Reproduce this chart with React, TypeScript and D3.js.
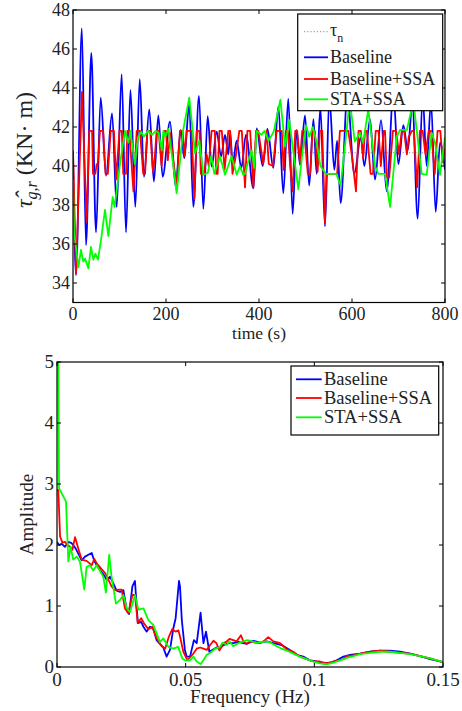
import React from 'react';
import * as d3 from 'd3';

// ---------- data ----------
const timeTicks = [0, 200, 400, 600, 800];
const torqueTicks = [34, 36, 38, 40, 42, 44, 46, 48];
const freqTicks = [0, 0.05, 0.1, 0.15];
const ampTicks = [0, 1, 2, 3, 4, 5];
const tauN = 40.68;

// time (s), torque (KN·m)
const baselineTorque: [number, number][] = [
  [0, 40.7], [6.5, 34.4], [19, 47.06], [28, 35.95], [39.4, 45.8], [49.5, 36.6], [59.5, 43.5],
  [71, 39.5], [84, 42.7], [94, 37.9], [104.6, 44.7], [114, 36.6], [123.5, 43.9], [134, 37.9],
  [143.5, 44.45], [152.7, 39.45], [164, 42.9], [174, 39.2], [183.5, 42.6], [192.8, 39.45],
  [208.6, 42.27], [220.8, 38.95], [231.5, 41.85], [239.4, 40.4], [250, 43.2], [258.7, 37.9],
  [271, 43.6], [280.3, 37.8], [289.6, 42.55], [298.2, 39.97], [309, 41.76], [318.3, 40.5],
  [327, 41.6], [334, 40.6], [338, 41.7], [343.4, 40.1], [352, 41.3], [362, 39.9], [372, 41.6],
  [388, 38.85], [395, 41.93], [408, 40.0], [418, 41.9], [430.8, 39.9], [441.6, 43.05],
  [452.3, 38.6], [463, 43.45], [472.4, 37.55], [481, 41.85], [488.2, 40.05], [499, 42.6],
  [508, 39.0], [517, 42.4], [524, 39.6], [532, 43.0], [541.9, 36.9], [551.2, 43.5], [562, 39.8],
  [568, 41.3], [575.6, 38.1], [590, 43.6], [605, 39.6], [619, 41.5], [626.5, 40.0], [638.7, 42.4],
  [649.5, 39.3], [662.4, 42.35], [674.6, 38.7], [688.9, 43.7], [699.7, 40.1], [710.5, 42.1],
  [719.8, 40.8], [729.8, 43.2], [741.3, 37.3], [752, 43.6], [760.6, 40.0], [769.9, 43.3],
  [780, 37.65], [789.3, 41.2], [800, 39.8],
];

const baselineSsaTorque: [number, number][] = [
  [0, 40.8], [6.5, 34.5], [19.4, 43.8], [29.4, 37.15], [35, 41.8], [41, 41.8], [43, 39.6], [48, 39.6],
  [51, 40.1], [53, 40.0], [58, 41.8], [65, 41.8], [70, 39.6], [75, 39.6], [81, 41.8], [88, 41.8],
  [92.5, 39.3], [100, 41.8], [105, 41.8], [108, 39.6], [114, 39.6], [117, 41.8], [121, 41.8],
  [130, 38.7], [137, 41.8], [144, 41.8], [151, 39.6], [155, 39.6], [160, 41.8], [166, 41.8],
  [172, 39.7], [176, 40.5], [180, 41.8], [184, 41.8], [190.7, 40.0], [195.7, 41.8], [200, 41.8],
  [204, 40.3], [208.6, 41.7], [223, 38.9], [230, 41.8], [236, 41.8], [240, 40.5], [244.3, 41.8],
  [255, 41.8], [261, 38.3], [266, 41.8], [272, 41.8], [275, 39.6], [282, 39.6], [287.4, 40.6],
  [292, 40.0], [298, 41.8], [305, 41.8], [308, 39.6], [311, 39.6], [315, 41.8], [320, 41.8],
  [326, 39.8], [334, 41.8], [338, 41.8], [343, 39.6], [350, 40.5], [357.7, 41.8], [363, 41.8],
  [370, 38.9], [375, 41.8], [381, 41.8], [388, 38.9], [393.5, 41.8], [398.5, 41.8], [409, 40.1],
  [416.5, 41.8], [421, 40.1], [430, 40.0], [438, 41.8], [449, 41.8], [453, 39.8], [458, 41.8],
  [462, 41.8], [467, 40.0], [472.4, 38.7], [478, 41.8], [482, 41.8], [488, 40.2], [493, 41.8],
  [497, 41.8], [505, 39.6], [510, 39.6], [515, 41.8], [520, 41.8], [526, 39.7], [531, 41.8],
  [536, 41.8], [541.9, 37.1], [545, 39.6], [568, 39.6], [574, 41.8], [592, 41.8], [600, 40.5],
  [608.6, 38.7], [614, 41.8], [619, 41.8], [624, 40.4], [628, 41.8], [632, 41.8], [640, 39.6],
  [645, 39.6], [651, 41.8], [657, 41.8], [662, 40.0], [668, 41.8], [671, 41.8], [675, 39.4],
  [680, 39.4], [688, 41.8], [695, 41.8], [701, 40.6], [707, 41.8], [712, 41.8], [718, 40.6],
  [722, 41.5], [729, 41.8], [733, 41.8], [740, 38.9], [746, 41.8], [752, 41.8], [758, 40.6],
  [765, 41.8], [770, 41.8], [778, 39.6], [784, 41.8], [790, 41.8], [795, 40.2], [800, 40.9],
];

const staSsaTorque: [number, number][] = [
  [0, 39.3], [2.2, 36.7], [11.5, 34.8], [17.2, 35.7], [22.2, 35.1], [26, 35.25], [33, 34.75],
  [38.7, 35.85], [43.7, 35.2], [48, 35.5], [53.8, 35.2], [60.2, 36.2], [68.8, 37.75], [76, 36.4],
  [85.3, 38.4], [89.6, 37.9], [101, 40.1], [111.8, 41.8], [119, 41.2], [123.5, 41.8], [133, 40.1],
  [140, 41.5], [147, 41.75], [152, 41.5], [162, 41.8], [170, 41.6], [178, 41.8], [184, 41.7],
  [191, 40.8], [194.3, 41.8], [199, 41.5], [205, 41.9], [215.8, 40.0], [222.9, 38.6], [237, 41.85],
  [250, 43.5], [262.4, 40.65], [271.7, 41.3], [280.3, 39.55], [290, 39.65], [297, 40.5], [304, 39.6],
  [316, 40.5], [327, 39.55], [341, 40.5], [352, 39.55], [359, 40.0], [366, 39.55], [370, 39.6],
  [374, 40.0], [384, 40.8], [390, 39.9], [395, 41.8], [405, 41.6], [412, 41.8], [420, 41.3],
  [428, 41.6], [432, 41.8], [446, 43.4], [456, 41.0], [465, 42.35], [484.6, 38.8], [494, 40.8],
  [501, 42.1], [508, 41.5], [516, 42.0], [524, 41.2], [532, 40.0], [544, 39.6], [566, 39.6],
  [575.6, 39.0], [588.6, 41.85], [595, 43.4], [606, 41.25], [617, 41.7], [624, 41.2], [635, 42.9],
  [649.5, 40.0], [656.7, 39.6], [671, 39.6], [681.9, 37.9], [696.3, 41.5], [703.5, 41.85],
  [717.8, 41.85], [732, 43.3], [750, 39.6], [760.6, 39.55], [771.4, 41.7], [778.5, 41.2],
  [789.3, 39.55], [800, 41.5],
];

// frequency (Hz), amplitude
const baselineSpectrum: [number, number][] = [
  [0, 2.05], [0.0008, 2.0], [0.0018, 2.02], [0.0031, 1.97], [0.0044, 2.05], [0.0057, 2.03],
  [0.0073, 1.94], [0.0086, 1.83], [0.0096, 1.75], [0.0109, 1.81], [0.0122, 1.84], [0.0135, 1.87],
  [0.0144, 1.75], [0.0154, 1.67], [0.0167, 1.59], [0.018, 1.52], [0.0193, 1.43], [0.0206, 1.48],
  [0.0219, 1.37], [0.0232, 1.25], [0.0245, 1.23], [0.0258, 1.26], [0.0271, 0.93], [0.028, 0.87],
  [0.0293, 1.32], [0.0303, 1.41], [0.0314, 0.72], [0.0327, 0.74], [0.0336, 0.66], [0.0348, 0.58],
  [0.0361, 0.66], [0.0374, 0.63], [0.0387, 0.44], [0.04, 0.38], [0.0413, 0.32], [0.0426, 0.17],
  [0.0439, 0.28], [0.0452, 0.63], [0.0461, 0.8], [0.0474, 1.41], [0.0478, 1.32], [0.0485, 0.77],
  [0.0497, 0.28], [0.0504, 0.17], [0.0517, 0.17], [0.0532, 0.44], [0.0543, 0.39], [0.0558, 0.89],
  [0.0569, 0.39], [0.0579, 0.58], [0.0592, 0.25], [0.0608, 0.29], [0.062, 0.32], [0.0634, 0.31],
  [0.0647, 0.36], [0.0666, 0.39], [0.0685, 0.39], [0.0705, 0.41], [0.0724, 0.39], [0.0737, 0.38],
  [0.0763, 0.43], [0.0789, 0.4], [0.0815, 0.42], [0.0834, 0.4], [0.0854, 0.38], [0.0873, 0.36],
  [0.0905, 0.28], [0.0931, 0.2], [0.0957, 0.17], [0.0983, 0.11], [0.1009, 0.09], [0.1035, 0.06],
  [0.1061, 0.07], [0.1087, 0.11], [0.1113, 0.17], [0.1139, 0.2], [0.1178, 0.22], [0.1217, 0.25],
  [0.1255, 0.27], [0.1294, 0.27], [0.1333, 0.25], [0.1372, 0.22], [0.1411, 0.18], [0.145, 0.13],
  [0.15, 0.08],
];

const baselineSsaSpectrum: [number, number][] = [
  [0, 2.9], [0.0005, 2.9], [0.0012, 2.14], [0.0021, 2.04], [0.0031, 2.05], [0.0041, 2.0],
  [0.0051, 1.97], [0.006, 1.92], [0.007, 2.13], [0.0083, 1.94], [0.0096, 1.76], [0.0115, 1.74],
  [0.0135, 1.67], [0.0145, 1.77], [0.0154, 1.7], [0.0174, 1.6], [0.0187, 1.54], [0.02, 1.43],
  [0.0212, 1.32], [0.0225, 1.26], [0.0242, 1.27], [0.0251, 1.27], [0.0264, 0.96], [0.0277, 0.88],
  [0.0293, 1.18], [0.0303, 1.18], [0.0314, 0.72], [0.0327, 0.8], [0.0339, 0.71], [0.0355, 0.62],
  [0.037, 0.66], [0.0387, 0.47], [0.0407, 0.34], [0.042, 0.3], [0.0435, 0.5], [0.0448, 0.62],
  [0.0461, 0.58], [0.0472, 0.6], [0.0478, 0.5], [0.0491, 0.25], [0.0507, 0.11], [0.0517, 0.16],
  [0.053, 0.22], [0.0543, 0.3], [0.0556, 0.32], [0.0569, 0.3], [0.0582, 0.28], [0.0595, 0.36],
  [0.0608, 0.43], [0.062, 0.39], [0.0631, 0.27], [0.0647, 0.39], [0.066, 0.42], [0.067, 0.46],
  [0.0685, 0.44], [0.0698, 0.42], [0.0715, 0.52], [0.0724, 0.42], [0.0737, 0.38], [0.075, 0.42],
  [0.077, 0.4], [0.0789, 0.39], [0.0808, 0.44], [0.0821, 0.49], [0.0841, 0.42], [0.0867, 0.39],
  [0.0893, 0.29], [0.0918, 0.25], [0.0944, 0.17], [0.097, 0.13], [0.0996, 0.09], [0.1022, 0.09],
  [0.1048, 0.06], [0.1074, 0.09], [0.1113, 0.13], [0.1126, 0.18], [0.1152, 0.19], [0.1178, 0.22],
  [0.1217, 0.25], [0.1255, 0.27], [0.1294, 0.25], [0.1333, 0.23], [0.1372, 0.22], [0.1411, 0.18],
  [0.145, 0.14], [0.15, 0.08],
];

const staSsaSpectrum: [number, number][] = [
  [0, 9], [0.0008, 2.93], [0.0035, 2.71], [0.0044, 1.73], [0.0053, 1.97], [0.0063, 1.76],
  [0.0076, 1.81], [0.0089, 1.73], [0.0106, 1.27], [0.0115, 1.64], [0.0128, 1.67], [0.0141, 1.58],
  [0.0154, 1.67], [0.0165, 1.59], [0.018, 1.48], [0.019, 1.22], [0.0203, 1.84], [0.0212, 1.48],
  [0.0229, 1.04], [0.0245, 1.1], [0.0258, 1.18], [0.0271, 0.96], [0.0284, 0.9], [0.0303, 1.18],
  [0.0316, 0.94], [0.0336, 0.96], [0.0355, 0.77], [0.0374, 0.69], [0.0387, 0.55], [0.04, 0.41],
  [0.0413, 0.47], [0.0433, 0.33], [0.0452, 0.3], [0.0471, 0.33], [0.0487, 0.14], [0.0497, 0.11],
  [0.0504, 0.11], [0.0517, 0.11], [0.053, 0.17], [0.0543, 0.09], [0.0558, 0.05], [0.0569, 0.11],
  [0.0582, 0.2], [0.0595, 0.23], [0.0614, 0.3], [0.0631, 0.32], [0.0644, 0.4], [0.066, 0.36],
  [0.067, 0.42], [0.0685, 0.34], [0.0705, 0.39], [0.0724, 0.42], [0.074, 0.44], [0.0757, 0.42],
  [0.0776, 0.4], [0.0795, 0.41], [0.0815, 0.42], [0.0834, 0.39], [0.0854, 0.34], [0.0873, 0.3],
  [0.0893, 0.27], [0.0918, 0.22], [0.0944, 0.17], [0.097, 0.13], [0.0996, 0.09], [0.1022, 0.06],
  [0.1048, 0.045], [0.1074, 0.07], [0.11, 0.11], [0.1126, 0.15], [0.1152, 0.18], [0.1178, 0.21],
  [0.1217, 0.23], [0.1255, 0.25], [0.1294, 0.25], [0.1333, 0.23], [0.1372, 0.21], [0.1411, 0.18],
  [0.145, 0.14], [0.15, 0.08],
];

const seriesNames = ['Baseline', 'Baseline+SSA', 'STA+SSA'];
const seriesColors = ['#0000ff', '#ff0000', '#00ff00'];

// ---------- chart ----------
const serif: React.CSSProperties = { fontFamily: "'Liberation Serif', 'DejaVu Serif', serif" };

export default function App() {
  const xT = d3.scaleLinear().domain([0, 800]).range([73, 445]);
  const yT = d3.scaleLinear().domain([33, 48]).range([302.5, 10]);
  const xF = d3.scaleLinear().domain([0, 0.15]).range([57, 443]);
  const yF = d3.scaleLinear().domain([0, 5]).range([667, 362]);

  const smoothT = d3.line<[number, number]>().x(d => xT(d[0])).y(d => yT(d[1])).curve(d3.curveMonotoneX);
  const linT = d3.line<[number, number]>().x(d => xT(d[0])).y(d => yT(d[1]));
  const linF = d3.line<[number, number]>().x(d => xF(d[0])).y(d => yF(d[1]));

  const tk = 4;
  const [tx0, tx1] = xT.range();
  const [ty1, ty0] = yT.range();
  const [fx0, fx1] = xF.range();
  const [fy1, fy0] = yF.range();

  const torqueLines = [
    { d: smoothT(baselineTorque), c: seriesColors[0] },
    { d: linT(baselineSsaTorque), c: seriesColors[1] },
    { d: linT(staSsaTorque), c: seriesColors[2] },
  ];
  const specLines = [
    { d: linF(baselineSpectrum), c: seriesColors[0] },
    { d: linF(baselineSsaSpectrum), c: seriesColors[1] },
    { d: linF(staSsaSpectrum), c: seriesColors[2] },
  ];
  const txt = '#222';

  return (
    <svg width={462} height={711} style={{ position: 'absolute', left: 0, top: 0, background: '#fff' }}>
      <defs>
        <clipPath id="clipT"><rect x={tx0} y={ty0} width={tx1 - tx0} height={ty1 - ty0} /></clipPath>
        <clipPath id="clipF"><rect x={fx0} y={fy0} width={fx1 - fx0} height={fy1 - fy0} /></clipPath>
      </defs>
      <rect x={0} y={0} width={462} height={711} fill="#fff" />

      {/* ===== Top chart ===== */}
      <g clipPath="url(#clipT)">
        <line x1={tx0} x2={tx1} y1={yT(tauN)} y2={yT(tauN)} stroke="#8a8a8a" strokeWidth={1} strokeDasharray="1.2,2" />
        {torqueLines.map((l, i) => (
          <path key={i} d={l.d || ''} fill="none" stroke={l.c} strokeWidth={1.8} strokeLinejoin="round" />
        ))}
      </g>
      {timeTicks.map(t => (
        <g key={'tt' + t}>
          <line x1={xT(t)} x2={xT(t)} y1={ty1} y2={ty1 - tk} stroke="#000" />
          <line x1={xT(t)} x2={xT(t)} y1={ty0} y2={ty0 + tk} stroke="#000" />
          <text x={xT(t)} y={320} textAnchor="middle" fontSize={18} fill={txt} style={serif}>{t}</text>
        </g>
      ))}
      {torqueTicks.map(v => (
        <g key={'ty' + v}>
          <line x1={tx0} x2={tx0 + tk} y1={yT(v)} y2={yT(v)} stroke="#000" />
          <line x1={tx1} x2={tx1 - tk} y1={yT(v)} y2={yT(v)} stroke="#000" />
          <text x={70} y={yT(v)} dy="0.33em" textAnchor="end" fontSize={18} fill={txt} style={serif}>{v}</text>
        </g>
      ))}
      <rect x={tx0} y={ty0} width={tx1 - tx0} height={ty1 - ty0} fill="none" stroke="#000" strokeWidth={1.2} />
      <text x={(tx0 + tx1) / 2} y={339} textAnchor="middle" fontSize={17.5} fill={txt} style={serif}>time (s)</text>
      <text transform="translate(32,150) rotate(-90)" textAnchor="middle" fontSize={24} fill={txt} style={serif}>
        <tspan fontStyle="italic">τ̂</tspan>
        <tspan fontStyle="italic" fontSize={16} dy={5}>g,r</tspan>
        <tspan dy={-5}> (KN· m)</tspan>
      </text>

      <g>
        <rect x={297.7} y={14} width={145} height={96.7} fill="#fff" stroke="#000" strokeWidth={1.2} />
        <line x1={304} x2={328} y1={31.7} y2={31.7} stroke="#8a8a8a" strokeDasharray="1.2,2" />
        <text x={330} y={36} fontSize={18} fill={txt} style={serif}>
          <tspan>τ</tspan>
          <tspan fontSize={12} dy={6}>n</tspan>
        </text>
        {seriesNames.map((n, i) => {
          const ly = [57.3, 79, 99.3][i];
          return (
            <g key={n}>
              <line x1={304} x2={328} y1={ly} y2={ly} stroke={seriesColors[i]} strokeWidth={1.8} />
              <text x={330} y={ly + 6} fontSize={18} fill={txt} style={serif}>{n}</text>
            </g>
          );
        })}
      </g>

      {/* ===== Bottom chart ===== */}
      <g clipPath="url(#clipF)">
        {specLines.map((l, i) => (
          <path key={i} d={l.d || ''} fill="none" stroke={l.c} strokeWidth={1.8} strokeLinejoin="round" />
        ))}
      </g>
      {freqTicks.map(f => (
        <g key={'ft' + f}>
          <line x1={xF(f)} x2={xF(f)} y1={fy1} y2={fy1 - tk} stroke="#000" />
          <line x1={xF(f)} x2={xF(f)} y1={fy0} y2={fy0 + tk} stroke="#000" />
          <text x={xF(f)} y={686} textAnchor="middle" fontSize={19} fill={txt} style={serif}>{String(f)}</text>
        </g>
      ))}
      {ampTicks.map(v => (
        <g key={'fa' + v}>
          <line x1={fx0} x2={fx0 + tk} y1={yF(v)} y2={yF(v)} stroke="#000" />
          <line x1={fx1} x2={fx1 - tk} y1={yF(v)} y2={yF(v)} stroke="#000" />
          <text x={54} y={yF(v)} dy="0.33em" textAnchor="end" fontSize={19} fill={txt} style={serif}>{v}</text>
        </g>
      ))}
      <rect x={fx0} y={fy0} width={fx1 - fx0} height={fy1 - fy0} fill="none" stroke="#000" strokeWidth={1.2} />
      <text x={(fx0 + fx1) / 2} y={703} textAnchor="middle" fontSize={19} fill={txt} style={serif}>Frequency (Hz)</text>
      <text transform={`translate(33,${(fy0 + fy1) / 2}) rotate(-90)`} textAnchor="middle" fontSize={19} fill={txt} style={serif}>Amplitude</text>

      <g>
        <rect x={291} y={366} width={147.7} height={69} fill="#fff" stroke="#000" strokeWidth={1.2} />
        {seriesNames.map((n, i) => {
          const ly = [379.3, 398, 417.3][i];
          return (
            <g key={n}>
              <line x1={296} x2={321.7} y1={ly} y2={ly} stroke={seriesColors[i]} strokeWidth={1.8} />
              <text x={324} y={ly + 6} fontSize={18.5} fill={txt} style={serif}>{n}</text>
            </g>
          );
        })}
      </g>
    </svg>
  );
}
